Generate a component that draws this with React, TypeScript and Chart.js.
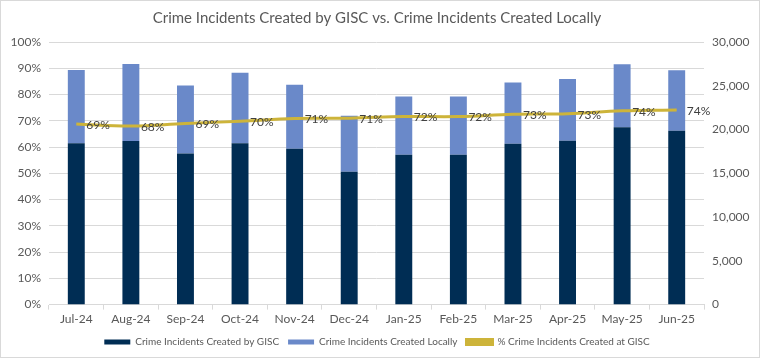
import React, { useEffect, useRef } from "react";
import { Chart, registerables } from "chart.js";

Chart.register(...registerables);

const months = ["Jul-24", "Aug-24", "Sep-24", "Oct-24", "Nov-24", "Dec-24", "Jan-25", "Feb-25", "Mar-25", "Apr-25", "May-25", "Jun-25"];
const gisc = [18430, 18690, 17270, 18430, 17810, 15190, 17120, 17120, 18390, 18730, 20270, 19850];
const local = [8370, 8810, 7770, 8070, 7310, 6390, 6650, 6650, 6990, 7040, 7190, 6920];
const pctGisc = [68.8, 68.0, 69.0, 69.8, 70.9, 71.0, 71.6, 71.6, 72.5, 72.7, 73.8, 74.1];
const pctLabels = ["69%", "68%", "69%", "70%", "71%", "71%", "72%", "72%", "73%", "73%", "74%", "74%"];

const FONT = "Lato, 'Open Sans', sans-serif";
const GREY = "#595959";

const labelPlugin = {
  id: "lineLabels",
  afterDatasetsDraw(chart: any) {
    const meta = chart.getDatasetMeta(2);
    const ctx = chart.ctx;
    ctx.save();
    ctx.font = `12px ${FONT}`;
    ctx.fillStyle = "#404040";
    ctx.textAlign = "left";
    ctx.textBaseline = "middle";
    meta.data.forEach((pt: any, i: number) => {
      ctx.fillText(pctLabels[i], pt.x + 10, pt.y + 1);
    });
    ctx.restore();
  },
};

export default function App() {
  const ref = useRef<HTMLCanvasElement>(null);
  useEffect(() => {
    document.body.style.margin = "0";
    const chart = new Chart(ref.current!, {
      type: "bar",
      data: {
        labels: months,
        datasets: [
          {
            label: "Crime Incidents Created by GISC",
            data: gisc,
            backgroundColor: "#002D54",
            yAxisID: "y1",
            stack: "s",
            order: 2,
          },
          {
            label: "Crime Incidents Created Locally",
            data: local,
            backgroundColor: "#6A89C9",
            yAxisID: "y1",
            stack: "s",
            order: 2,
          },
          {
            type: "line",
            label: "% Crime Incidents Created at GISC",
            data: pctGisc,
            borderColor: "#CDB43A",
            backgroundColor: "#CDB43A",
            borderWidth: 3,
            pointRadius: 0,
            tension: 0.4,
            yAxisID: "y",
            order: 1,
          } as any,
        ],
      },
      options: {
        animation: false,
        responsive: false,
        layout: { padding: { left: 0, right: 6, top: 0, bottom: 0 } },
        datasets: { bar: { categoryPercentage: 1, barPercentage: 0.31 } } as any,
        plugins: {
          title: {
            display: true,
            text: "Crime Incidents Created by GISC vs. Crime Incidents Created Locally",
            color: GREY,
            font: { family: FONT, size: 15, weight: "normal" },
            padding: { top: 8, bottom: 15 },
          },
          legend: {
            position: "bottom",
            labels: {
              color: GREY,
              font: { family: FONT, size: 10 },
              boxWidth: 26,
              boxHeight: 5,
              padding: 9,
              sort: (a: any, b: any) => a.datasetIndex - b.datasetIndex,
            },
          },
          tooltip: { enabled: false },
        },
        scales: {
          x: {
            stacked: true,
            grid: { display: true, drawOnChartArea: false, color: "#D9D9D9", tickLength: 5, offset: true },
            border: { color: "#D9D9D9" },
            ticks: { color: GREY, font: { family: FONT, size: 12 }, padding: 2, maxRotation: 0 },
          },
          y: {
            position: "left",
            min: 0,
            max: 100,
            ticks: { stepSize: 10, color: GREY, font: { family: FONT, size: 12 }, callback: (v: any) => v + "%", padding: 8 },
            grid: { color: "#D9D9D9", drawTicks: false },
            border: { display: false },
            afterFit: (s: any) => { s.width = 48; },
          },
          y1: {
            position: "right",
            min: 0,
            max: 30000,
            stacked: true,
            ticks: { stepSize: 5000, color: GREY, font: { family: FONT, size: 12 }, padding: 8, callback: (v: any) => Number(v).toLocaleString("en-US") },
            grid: { display: false, drawTicks: false },
            border: { display: false },
            afterFit: (s: any) => { s.width = 49; },
          },
        },
      },
      plugins: [labelPlugin],
    });
    return () => chart.destroy();
  }, []);
  return (
    <div style={{ width: 758, height: 356, border: "1px solid #D9D9D9", position: "relative" }}>
      <canvas ref={ref} width={758} height={356} style={{ display: "block" }} />
    </div>
  );
}
